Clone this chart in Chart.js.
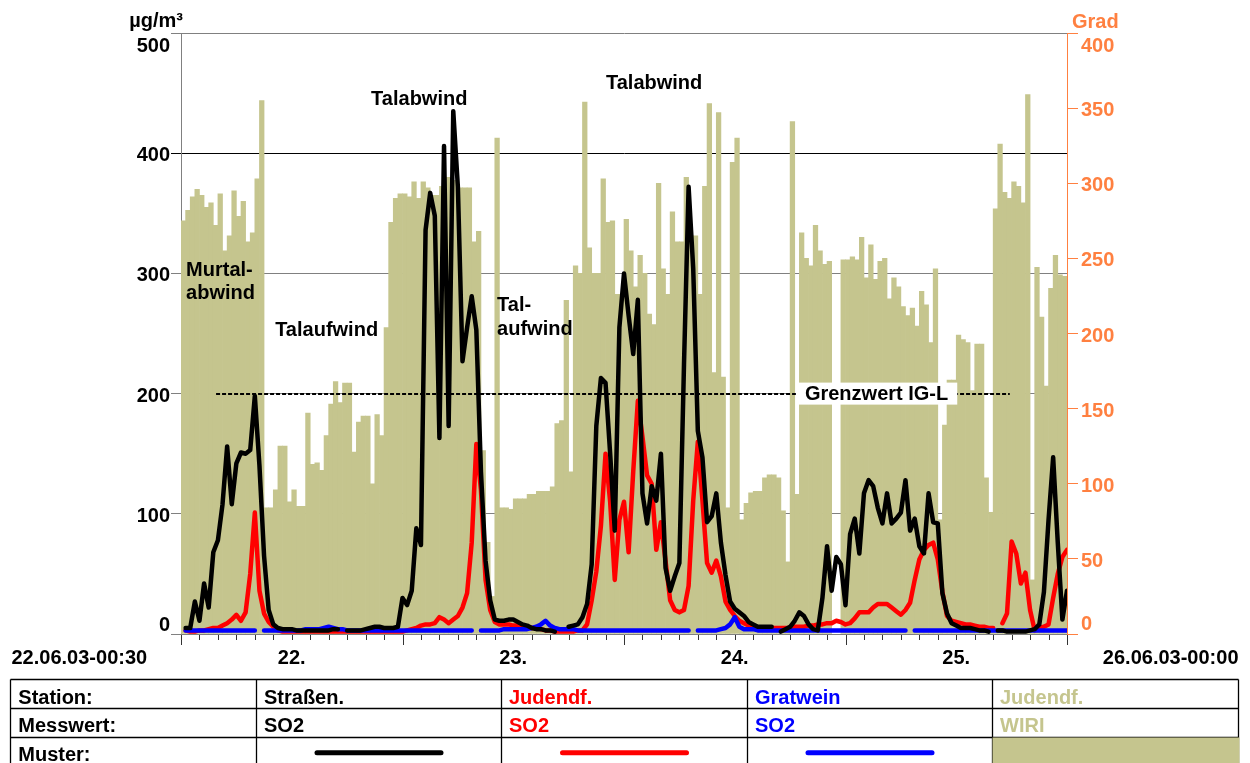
<!DOCTYPE html>
<html>
<head>
<meta charset="utf-8">
<script src="https://cdn.jsdelivr.net/npm/chart.js@4.4.0/dist/chart.umd.min.js"></script>
<style>
html,body{margin:0;padding:0;background:#fff;}
#wrap{width:1250px;height:763px;position:relative;}
</style>
</head>
<body>
<div id="wrap"><canvas id="c" width="1250" height="763"></canvas></div>
<script>
// ---- data: half-hourly values, 22.06.03 00:30 ... 26.06.03 00:00 ----
const windDir = [ // Judendf. WIRI (Grad)
275,282,291,296,292,284,287,272,293,255,
265,295,278,288,261,267,303,355,84,84,
96,125,125,88,96,85,85,147,113,114,
109,132,153,168,154,167,167,121,141,145,
145,100,146,132,204,274,290,293,293,291,
301,290,301,297,292,292,298,304,304,302,
297,297,297,261,268,122,61,25,330,84,
84,83,90,90,90,93,93,95,95,95,
98,140,142,222,108,245,240,354,257,240,
240,303,274,275,226,226,276,255,231,252,
240,213,206,300,243,226,281,261,261,304,
265,265,226,298,353,174,347,171,84,314,
330,76,87,94,95,95,104,106,106,104,
82,48,341,93,267,250,245,272,255,246,
248,null,null,249,249,251,249,264,237,259,
236,248,250,223,237,231,218,212,217,205,
228,219,194,243,76,139,169,169,199,196,
194,162,193,193,104,81,283,326,294,290,
301,298,287,359,36,244,211,165,230,252,
239,238];

const so2Strassen = [ // µg/m³
5,5,27,11,42,22,68,78,108,156,
108,142,151,150,153,198,140,65,20,8,
5,4,4,4,3,3,3,3,3,3,
3,3,4,4,null,3,3,3,3,4,
5,6,6,5,5,5,6,30,24,36,
88,74,336,367,348,163,406,173,435,372,
227,255,281,253,135,61,28,12,11,11,
12,12,10,8,7,5,4,4,3,3,
2,null,null,6,7,8,14,25,58,173,
213,209,150,86,255,300,265,233,278,117,
92,123,111,150,55,36,48,59,224,372,
304,169,147,93,98,117,76,49,27,21,
18,15,10,8,6,6,6,6,null,2,
4,6,11,18,15,8,4,3,30,73,
36,64,58,24,83,96,67,117,128,123,
105,92,117,92,96,101,128,86,96,73,
67,117,93,92,34,17,9,7,5,5,
5,4,3,3,2,null,3,3,2,2,
2,2,2,3,4,8,35,95,147,76,
12,36];

const so2Judendorf = [
3,2,2,3,3,4,5,5,7,9,
12,16,11,18,50,101,36,17,10,6,
3,2,2,2,2,2,2,2,2,2,
2,2,2,2,2,2,2,2,2,2,
2,2,2,2,2,2,2,2,3,4,
5,7,8,8,9,14,12,9,12,15,
22,34,76,158,120,45,20,10,8,8,
8,7,7,6,6,5,5,4,3,3,
2,2,2,2,2,3,3,8,28,52,
90,150,110,45,95,110,68,135,194,164,
132,125,70,93,61,28,20,18,20,40,
111,160,111,59,51,61,48,27,20,15,
11,9,7,6,5,5,5,5,5,5,
5,5,6,6,6,7,7,8,8,9,
9,11,10,8,9,13,18,18,18,22,
25,25,25,22,19,16,20,26,45,62,
70,74,76,62,35,15,11,10,9,8,
8,7,6,6,5,5,null,9,17,77,
67,42,51,20,3,5,6,8,30,50,
64,70];

const so2Gratwein = [
3,3,3,3,3,3,3,3,3,3,
3,3,3,3,3,3,null,3,3,3,
3,3,3,3,3,3,4,4,4,4,
5,6,5,4,4,3,3,3,3,3,
3,3,3,3,3,3,3,3,3,3,
3,3,3,3,3,3,3,3,3,3,
3,3,3,null,3,3,3,3,3,4,
4,4,4,4,4,5,6,8,11,7,
5,4,4,4,4,3,3,3,3,3,
3,3,3,3,3,3,3,3,3,3,
3,3,3,3,3,3,3,3,3,3,
null,3,3,3,3,3,4,5,8,14,
6,4,4,4,3,3,3,3,3,3,
3,3,3,3,3,3,3,3,3,3,
3,3,3,3,3,3,3,3,3,3,
3,3,3,3,3,3,3,null,3,3,
3,3,3,3,3,3,3,3,3,3,
3,3,3,3,3,3,3,3,3,3,
3,3,3,3,3,3,3,3,3,3,
3,3];

const dayLabels = ['22.','23.','24.','25.'];
const startLabel = '22.06.03-00:30';
const endLabel = '26.06.03-00:00';
const leftTicks = [0,100,200,300,400,500];
const rightTicks = [0,50,100,150,200,250,300,350,400];
const grenzwert = 200;

const tableLabels = ['Station:','Messwert:','Muster:'];
const tableStations = ['Straßen.','Judendf.','Gratwein','Judendf.'];
const tableMeasures = ['SO2','SO2','SO2','WIRI'];

const KHAKI = '#c5c58e';
const ORANGE = '#ff8040';
const FONT = 'bold 20px "Liberation Sans", Arial, Helvetica, sans-serif';
const seriesColors = ['#000000','#ff0000','#0000ff',KHAKI];

// annotation texts (positions in data units: x = half-hour index, y = µg/m³ baseline)
const notes = [
  {text:'Murtal-',   x:1.1,  y:298},
  {text:'abwind',    x:1.1,  y:279},
  {text:'Talaufwind',x:20.4, y:248},
  {text:'Talabwind', x:41.2, y:440},
  {text:'Tal-',      x:68.5, y:269},
  {text:'aufwind',   x:68.5, y:249},
  {text:'Talabwind', x:92.1, y:453}
];
const limitLabel = {text:'Grenzwert IG-L', x:135.2, y:195};
const limitFrom = 7.6, limitTo = 179.6;

const N = windDir.length;
const barData = windDir.map((v,k)=>({x:k+0.5,y:v}));
const toLine = arr => arr.map((v,k)=>({x:k+1,y:v}));

const customDraw = {
  id:'customDraw',
  afterDatasetDraw(chart, args){
    if(args.meta.type !== 'bar') return;
    const {ctx} = chart; const x = chart.scales.x, y = chart.scales.y;
    ctx.save();
    const yy = Math.round(y.getPixelForValue(grenzwert));
    ctx.strokeStyle = '#000'; ctx.lineWidth = 2; ctx.setLineDash([4,2]);
    ctx.beginPath(); ctx.moveTo(x.getPixelForValue(limitFrom), yy); ctx.lineTo(x.getPixelForValue(limitTo), yy); ctx.stroke();
    ctx.setLineDash([]);
    ctx.font = FONT;
    const lx = x.getPixelForValue(limitLabel.x), ly = y.getPixelForValue(limitLabel.y);
    const w = ctx.measureText(limitLabel.text).width;
    ctx.fillStyle = '#fff';
    ctx.fillRect(lx-9, ly-17, w+18, 22);
    ctx.fillStyle = '#000'; ctx.textAlign='left'; ctx.textBaseline='alphabetic';
    ctx.fillText(limitLabel.text, lx, ly);
    ctx.restore();
  },
  afterDraw(chart){
    const {ctx, chartArea} = chart;
    const x = chart.scales.x, y = chart.scales.y, y1 = chart.scales.y1;
    ctx.save();
    ctx.font = FONT; ctx.textBaseline = 'alphabetic';
    // annotations
    ctx.fillStyle = '#000'; ctx.textAlign = 'left';
    notes.forEach(n => ctx.fillText(n.text, x.getPixelForValue(n.x), y.getPixelForValue(n.y)));
    // left labels
    ctx.textAlign = 'right';
    leftTicks.forEach(v => {
      const p = y.getPixelForValue(v);
      let py = p + 8;
      if (v === y.max) py = p + 18.5;
      if (v === y.min) py = p - 3;
      ctx.fillText(String(v), y.right - 11, py);
    });
    ctx.fillText('µg/m³', y.right + 2, 27);
    // right labels
    ctx.fillStyle = ORANGE; ctx.textAlign = 'left';
    rightTicks.forEach(v => {
      const p = y1.getPixelForValue(v);
      let py = p + 8;
      if (v === y1.max) py = p + 18.5;
      if (v === y1.min) py = p - 4.5;
      ctx.fillText(String(v), y1.left + 14, py);
    });
    ctx.fillText('Grad', y1.left + 5, 28);
    // x ticks
    ctx.strokeStyle = '#333'; ctx.lineWidth = 1;
    for (let v = 0; v <= N; v += 4) {
      const px = Math.round(x.getPixelForValue(v)) + 0.5;
      const len = (v % 48 === 0) ? 10 : 5;
      ctx.beginPath(); ctx.moveTo(px, chartArea.bottom + 1); ctx.lineTo(px, chartArea.bottom + 1 + len); ctx.stroke();
    }
    // x labels
    ctx.fillStyle = '#000';
    ctx.textAlign = 'left'; ctx.fillText(startLabel, 11.5, 664);
    ctx.textAlign = 'right'; ctx.fillText(endLabel, 1238.5, 664);
    ctx.textAlign = 'center';
    dayLabels.forEach((t,i) => ctx.fillText(t, x.getPixelForValue(24 + 48*i), 664));
    // table
    const cols = [10.5, 256.5, 501.5, 747.5, 992.5, 1238.5];
    const rows = [679.5, 708.5, 737.5, 763];
    ctx.strokeStyle = '#000'; ctx.lineWidth = 1.3;
    for (let r = 0; r < 3; r++) { ctx.beginPath(); ctx.moveTo(cols[0], rows[r]); ctx.lineTo(cols[5], rows[r]); ctx.stroke(); }
    cols.forEach(c => { ctx.beginPath(); ctx.moveTo(c, rows[0]); ctx.lineTo(c, 763); ctx.stroke(); });
    ctx.fillStyle = KHAKI; ctx.fillRect(cols[4], rows[2], cols[5]-cols[4]+1, 763-rows[2]);
    ctx.textAlign = 'left';
    const base = [703.5, 732, 760.7];
    ctx.fillStyle = '#000';
    tableLabels.forEach((t,r) => ctx.fillText(t, 18.3, base[r]));
    for (let i = 0; i < 4; i++) {
      ctx.fillStyle = seriesColors[i];
      ctx.fillText(tableStations[i], cols[i+1] + 7.5, base[0]);
      ctx.fillText(tableMeasures[i], cols[i+1] + 7.5, base[1]);
      if (i < 3) {
        const cx = (cols[i+1] + cols[i+2]) / 2;
        ctx.strokeStyle = seriesColors[i]; ctx.lineWidth = 5; ctx.lineCap = 'round';
        ctx.beginPath(); ctx.moveTo(cx - 62, 752.7); ctx.lineTo(cx + 62, 752.7); ctx.stroke();
      }
    }
    ctx.restore();
  }
};

Chart.defaults.font.family = '"Liberation Sans", Arial, Helvetica, sans-serif';

const lineDs = (label, arr, color, order) => ({
  type:'line', label, data: toLine(arr), yAxisID:'y', borderColor: color, backgroundColor: color,
  borderWidth: 4.5, pointRadius: 0, tension: 0, spanGaps: false,
  borderJoinStyle: 'round', borderCapStyle: 'round', order
});

new Chart(document.getElementById('c'), {
  type: 'bar',
  data: {
    datasets: [
      lineDs('Straßen. SO2', so2Strassen, '#000000', 0),
      lineDs('Gratwein SO2', so2Gratwein, '#0000ff', 1),
      lineDs('Judendf. SO2', so2Judendorf, '#ff0000', 2),
      { type:'bar', label:'Judendf. WIRI', data: barData, yAxisID:'y1', backgroundColor: KHAKI,
        borderWidth: 0, barPercentage: 1, categoryPercentage: 1, order: 3 }
    ]
  },
  options: {
    responsive: false, animation: false, devicePixelRatio: 1,
    parsing: true,
    layout: { padding: { top: 33, left: 0, right: 0, bottom: 0 }, autoPadding: false },
    plugins: { legend: { display: false }, tooltip: { enabled: false } },
    scales: {
      x: { type:'linear', min: 0, max: N, offset: false,
           ticks: { display: false, stepSize: 4 }, grid: { display: false }, border: { display: false },
           afterFit: s => { s.height = 129; } },
      y: { type:'linear', position:'left', min: 0, max: 500,
           ticks: { display: false, stepSize: 100 },
           grid: { color: c => (c.tick && c.tick.value === 400) ? '#000' : '#808080', lineWidth: 1, drawTicks: true, tickLength: 10 },
           border: { color: '#808080', width: 1 },
           afterFit: s => { s.width = 181; } },
      y1: { type:'linear', position:'right', min: 0, max: 400,
           ticks: { display: false, stepSize: 50 },
           grid: { drawOnChartArea: false, color: ORANGE, drawTicks: true, tickLength: 11 },
           border: { color: ORANGE, width: 1 },
           afterFit: s => { s.width = 183; } }
    }
  },
  plugins: [customDraw]
});
</script>
</body>
</html>
